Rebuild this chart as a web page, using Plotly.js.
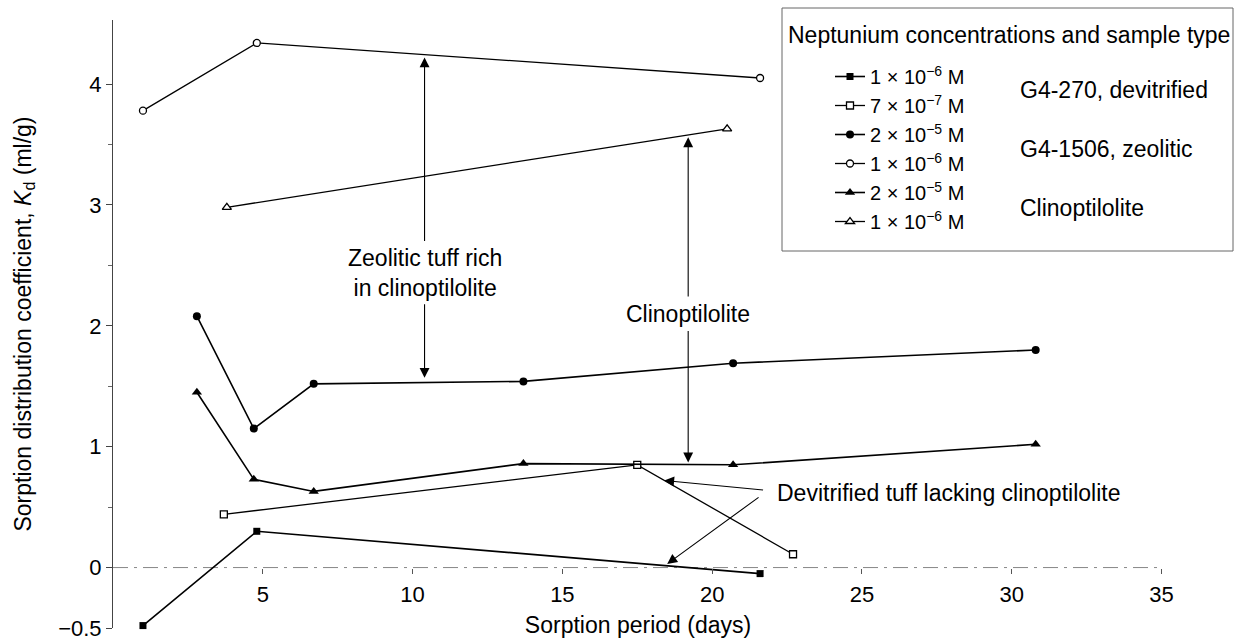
<!DOCTYPE html>
<html><head><meta charset="utf-8">
<script src="https://cdn.plot.ly/plotly-3.0.1.min.js"></script>
<style>html,body{margin:0;padding:0;background:#fff}</style>
</head><body>
<div id="chart" style="width:1236px;height:641px"></div>
<script>
// ---- data ----
const devitHighDays = [1.0, 4.8, 21.6];
const devitHighKd   = [-0.48, 0.30, -0.05];
const devitLowDays  = [3.7, 17.5, 22.7];
const devitLowKd    = [0.44, 0.85, 0.11];
const zeoHighDays   = [2.8, 4.7, 6.7, 13.7, 20.7, 30.8];
const zeoHighKd     = [2.08, 1.15, 1.52, 1.54, 1.69, 1.80];
const zeoLowDays    = [1.0, 4.8, 21.6];
const zeoLowKd      = [3.78, 4.34, 4.05];
const clinoHighDays = [2.8, 4.7, 6.7, 13.7, 20.7, 30.8];
const clinoHighKd   = [1.45, 0.73, 0.63, 0.86, 0.85, 1.02];
const clinoLowDays  = [3.8, 20.5];
const clinoLowKd    = [2.98, 3.63];

const seriesNames = [
  "1 × 10<sup>−6</sup> M", "7 × 10<sup>−7</sup> M",
  "2 × 10<sup>−5</sup> M", "1 × 10<sup>−6</sup> M",
  "2 × 10<sup>−5</sup> M", "1 × 10<sup>−6</sup> M"
];
const groupLabels = ["G4-270, devitrified", "G4-1506, zeolitic", "Clinoptilolite"];
const legendTitle = "Neptunium concentrations and sample type";
const xTicks = [5, 10, 15, 20, 25, 30, 35];
const yTicks = [-0.5, 0, 1, 2, 3, 4];
const yMinorTicks = [0.5, 1.5, 2.5, 3.5];
const xTitle = "Sorption period (days)";
const yTitle = "Sorption distribution coefficient, <i>K</i><sub>d</sub> (ml/g)";
const noteZeo = "Zeolitic tuff rich<br>in clinoptilolite";
const noteClino = "Clinoptilolite";
const noteDevit = "Devitrified tuff lacking clinoptilolite";

// ---- styling ----
const FONT = "Liberation Sans, Arial, Helvetica, sans-serif";
const FS = 23;      // titles / notes
const FT = 22;      // tick labels
const FL = 20;      // legend entries
const yMin = -0.5, yMax = 4.53;
const xMin = 0, xMax = 35.05;

function mk(x, y, name, symbol, filled, lw, size) {
  return {
    x: x, y: y, name: name, type: "scatter", mode: "lines+markers",
    legendgroup: name + symbol,
    line: {color: "#000", width: lw},
    marker: {symbol: symbol, size: size, color: filled ? "#000" : "#fff",
             line: {color: "#000", width: filled ? 0 : 1.3}},
    cliponaxis: false
  };
}

const traces = [
  mk(devitHighDays, devitHighKd, seriesNames[0], "square", true, 1.6, 7),
  mk(devitLowDays, devitLowKd, seriesNames[1], "square", false, 1.3, 7),
  mk(zeoHighDays, zeoHighKd, seriesNames[2], "circle", true, 1.6, 8),
  mk(zeoLowDays, zeoLowKd, seriesNames[3], "circle", false, 1.3, 7),
  mk(clinoHighDays, clinoHighKd, seriesNames[4], "triangle-up", true, 1.6, 9),
  mk(clinoLowDays, clinoLowKd, seriesNames[5], "triangle-up", false, 1.3, 8)
];

function arrow(xTip, yTip, xTail, yTail) {
  return {
    x: xTip, y: yTip, ax: xTail, ay: yTail, xref: "x", yref: "y", axref: "x", ayref: "y",
    text: "", showarrow: true, arrowhead: 2, arrowsize: 1.8, arrowwidth: 1.1,
    arrowcolor: "#000"
  };
}
function note(x, y, text, xanchor) {
  return {x: x, y: y, xref: "x", yref: "y", xanchor: xanchor, yanchor: "middle",
          text: text, showarrow: false, font: {family: FONT, size: FS, color: "#000"}};
}

const plotL = 113, plotR = 1236 - 73, plotT = 20, plotB = 628;
const pw = plotR - plotL, ph = plotB - plotT;
const px = v => (v - plotL) / pw;     // pixel -> paper x
const py = v => (plotB - v) / ph;     // pixel -> paper y

function paperText(x, y, text, size) {
  return {x: x, y: y, xref: "paper", yref: "paper", xanchor: "left", yanchor: "middle",
          text: text, showarrow: false, font: {family: FONT, size: size, color: "#000"}};
}

const annotations = [
  note(10.4, 2.44, noteZeo, "center"),
  arrow(10.4, 4.22, 10.4, 2.69),
  arrow(10.4, 1.57, 10.4, 2.19),
  note(19.2, 2.10, noteClino, "center"),
  arrow(19.2, 3.56, 19.2, 2.23),
  arrow(19.2, 0.87, 19.2, 1.97),
  note(22.1, 0.62, noteDevit, "left"),
  arrow(18.4, 0.72, 21.75, 0.64),
  arrow(18.5, 0.03, 21.6, 0.59),
  paperText(px(786), py(35), legendTitle, FS),
  paperText(px(1018), py(90), groupLabels[0], FS),
  paperText(px(1018), py(149), groupLabels[1], FS),
  paperText(px(1018), py(208), groupLabels[2], FS)
];

const shapes = [
  {type: "line", xref: "paper", yref: "y", x0: 0, x1: 1, y0: 0, y1: 0,
   line: {color: "#888", width: 1, dash: "longdashdot"}, layer: "below"},
  {type: "rect", xref: "paper", yref: "paper", x0: px(782), x1: px(1233), y0: py(251), y1: py(8),
   line: {color: "#666", width: 1}, fillcolor: "rgba(0,0,0,0)"}
];

const layout = {
  width: 1236, height: 641,
  margin: {l: plotL, r: 73, t: plotT, b: 641 - plotB, pad: 0},
  paper_bgcolor: "#fff", plot_bgcolor: "#fff",
  font: {family: FONT, size: FS, color: "#000"},
  showlegend: true,
  legend: {x: px(830), y: py(57), xanchor: "left", yanchor: "top", xref: "paper", yref: "paper",
           bgcolor: "rgba(0,0,0,0)", borderwidth: 0, traceorder: "grouped", tracegroupgap: 0,
           itemwidth: 30, font: {family: FONT, size: FL, color: "#000"}},
  xaxis: {
    range: [xMin, xMax], anchor: "free", position: (0 - yMin) / (yMax - yMin),
    tickmode: "array", tickvals: xTicks, ticks: "outside", ticklen: 5, tickcolor: "#555",
    ticklabelstandoff: 2,
    showline: false, showgrid: false, zeroline: false,
    tickfont: {family: FONT, size: FT, color: "#000"},
    title: {text: xTitle, font: {family: FONT, size: FS, color: "#000"}, standoff: 10}
  },
  yaxis: {
    range: [yMin, yMax], tickmode: "array", tickvals: yTicks,
    ticks: "outside", ticklen: 6, tickcolor: "#444",
    minor: {tickmode: "array", tickvals: yMinorTicks, ticks: "outside", ticklen: 4, tickcolor: "#666"},
    showline: true, linecolor: "#444", linewidth: 1,
    showgrid: false, zeroline: false,
    tickfont: {family: FONT, size: FT, color: "#000"},
    title: {text: yTitle, font: {family: FONT, size: FS, color: "#000"}, standoff: 20}
  },
  annotations: annotations,
  shapes: shapes
};

Plotly.newPlot("chart", traces, layout, {displayModeBar: false, staticPlot: true});
</script>
</body></html>
